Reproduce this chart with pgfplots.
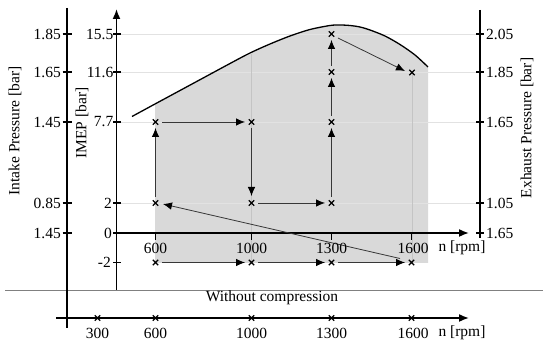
\documentclass[border=0pt]{standalone}
\usepackage{fontspec}
\setmainfont{Liberation Serif}
\usepackage{pgfplots}
\pgfplotsset{compat=1.18}
\usetikzlibrary{arrows.meta}
\definecolor{fillgray}{RGB}{217,217,217}
\definecolor{gridgray}{RGB}{226,226,226}
\definecolor{vgridgray}{RGB}{196,196,196}
\definecolor{arrowgray}{RGB}{55,55,55}
\definecolor{sepgray}{RGB}{128,128,128}
\begin{document}
\begin{tikzpicture}
\begin{axis}[
  x=1pt, y=1pt,
  xmin=0, xmax=550, ymin=0, ymax=347,
  y dir=reverse,
  hide axis, clip=false,
  font=\fontsize{15.5}{17}\selectfont,
  arr/.style={arrowgray, line width=0.8pt, -{Latex[length=9pt,width=7.5pt,black]}},
  ax/.style={black, line width=1.6pt},
  tk/.style={black, line width=1.3pt},
  mk/.style={only marks, mark=x, mark size=3.8pt, mark options={line width=1.4pt, black}},
]
\addplot[draw=none] coordinates {(0,0) (550,347)};
% shaded operating region
\addplot[fill=fillgray, draw=none] coordinates {
 (155,104) (180,90.5) (205,77) (230,63.5) (250,53) (270,44) (290,36) (300,32.5)
 (310,29.5) (320,27) (330,25.5) (340,25) (350,25.5) (360,27) (370,30) (385,36)
 (400,44.5) (415,55) (428,67) (428,263) (155,263)} -- cycle;
% grid lines
\addplot[gridgray, line width=0.8pt] coordinates {(121,34) (476,34)};
\addplot[gridgray, line width=0.8pt] coordinates {(121,72) (476,72)};
\addplot[gridgray, line width=0.8pt] coordinates {(121,122) (476,122)};
\addplot[gridgray, line width=0.8pt] coordinates {(121,203) (476,203)};
\addplot[vgridgray, line width=0.6pt] coordinates {(251.5,54) (251.5,263)};
\addplot[vgridgray, line width=0.6pt] coordinates {(412,72) (412,263)};
% maximum IMEP curve
\addplot[black, line width=1.3pt, smooth] coordinates {
 (132,116.5) (155,104) (180,90.5) (205,77) (230,63.5) (250,53) (270,44) (290,36)
 (310,29.5) (330,25.5) (340,25) (350,25.5) (360,27) (370,30) (385,36)
 (400,44.5) (415,55) (428,67)};
% separator
\addplot[sepgray, line width=0.9pt] coordinates {(5,290) (543,290)};
% axes
\addplot[ax] coordinates {(67,8) (67,328)};
\addplot[ax, -{Latex[length=10pt,width=8pt]}] coordinates {(116.5,290) (116.5,9)};
\addplot[ax, -{Latex[length=10pt,width=8pt]}] coordinates {(116.5,233) (469,233)};
\addplot[ax] coordinates {(480,10) (480,238)};
\addplot[ax, -{Latex[length=10pt,width=8pt]}] coordinates {(56,318) (469,318)};
% ticks
\foreach \yy in {34,72,122,203,233} {
  \edef\temp{\noexpand\addplot[tk] coordinates {(62.5,\yy) (71.5,\yy)};
    \noexpand\addplot[tk] coordinates {(476,\yy) (484,\yy)};}
  \temp
}
\foreach \yy in {34,72,122,203,233,262.5} {
  \edef\temp{\noexpand\addplot[tk] coordinates {(113,\yy) (121,\yy)};}
  \temp
}
\foreach \xx in {155.5,251.5,331.5,411.5} {
  \edef\temp{\noexpand\addplot[tk] coordinates {(\xx,233) (\xx,240)};}
  \temp
}
% arrows of the cycle
\addplot[arr] coordinates {(155.5,197) (155.5,128)};
\addplot[arr] coordinates {(162,122) (245,122)};
\addplot[arr] coordinates {(251.5,128) (251.5,196)};
\addplot[arr] coordinates {(258,203) (325,203)};
\addplot[arr] coordinates {(331.5,197) (331.5,128)};
\addplot[arr] coordinates {(331.5,116) (331.5,78)};
\addplot[arr] coordinates {(331.5,66) (331.5,40)};
\addplot[arr] coordinates {(338,38) (405,71)};
\addplot[arr] coordinates {(400,258.5) (163,204)};
\addplot[arr] coordinates {(162,262.5) (245,262.5)};
\addplot[arr] coordinates {(258,262.5) (325,262.5)};
\addplot[arr] coordinates {(338,262.5) (405,262.5)};
% operating points
\addplot[mk] coordinates {(155.5,122) (251.5,122) (155.5,203) (251.5,203)
 (331.5,203) (331.5,122) (331.5,72) (331.5,34) (412,72.5)
 (155.5,262.5) (251.5,262.5) (331.5,262.5) (411.5,262.5)};
\addplot[mk] coordinates {(97.5,318) (155.5,318) (251.5,318) (331.5,318) (411.5,318)};
% tick labels: intake pressure
\node[anchor=east, inner sep=0pt] at (61,34) {1.85};
\node[anchor=east, inner sep=0pt] at (61,72) {1.65};
\node[anchor=east, inner sep=0pt] at (61,122) {1.45};
\node[anchor=east, inner sep=0pt] at (61,203) {0.85};
\node[anchor=east, inner sep=0pt] at (61,233) {1.45};
% tick labels: IMEP
\node[anchor=east, inner sep=0pt] at (113.5,34) {15.5};
\node[anchor=east, inner sep=0pt] at (113.5,72) {11.6};
\node[anchor=east, inner sep=0pt] at (113.5,122) {7.7};
\node[anchor=east, inner sep=0pt] at (112,203) {2};
\node[anchor=east, inner sep=0pt] at (112,233) {0};
\node[anchor=east, inner sep=0pt] at (111,262.5) {-2};
% tick labels: exhaust pressure
\node[anchor=west, inner sep=0pt] at (486,34) {2.05};
\node[anchor=west, inner sep=0pt] at (486,72) {1.85};
\node[anchor=west, inner sep=0pt] at (486,122) {1.65};
\node[anchor=west, inner sep=0pt] at (486,203) {1.05};
\node[anchor=west, inner sep=0pt] at (486,233) {1.65};
% speed labels
\node at (155.5,248) {600};
\node at (251.5,248) {1000};
\node at (331.5,248) {1300};
\node at (413,248) {1600};
\node at (462,248) {n [rpm]};
\node at (97.5,333) {300};
\node at (155.5,333) {600};
\node at (251.5,333) {1000};
\node at (331.5,333) {1300};
\node at (413,333) {1600};
\node at (462,333) {n [rpm]};
% axis titles
\node[rotate=90] at (15,131) {Intake Pressure [bar]};
\node[rotate=90] at (82,123) {IMEP [bar]};
\node[rotate=90] at (527,128) {Exhaust Pressure [bar]};
\node at (272,298) {Without compression};
\end{axis}
\end{tikzpicture}
\end{document}
